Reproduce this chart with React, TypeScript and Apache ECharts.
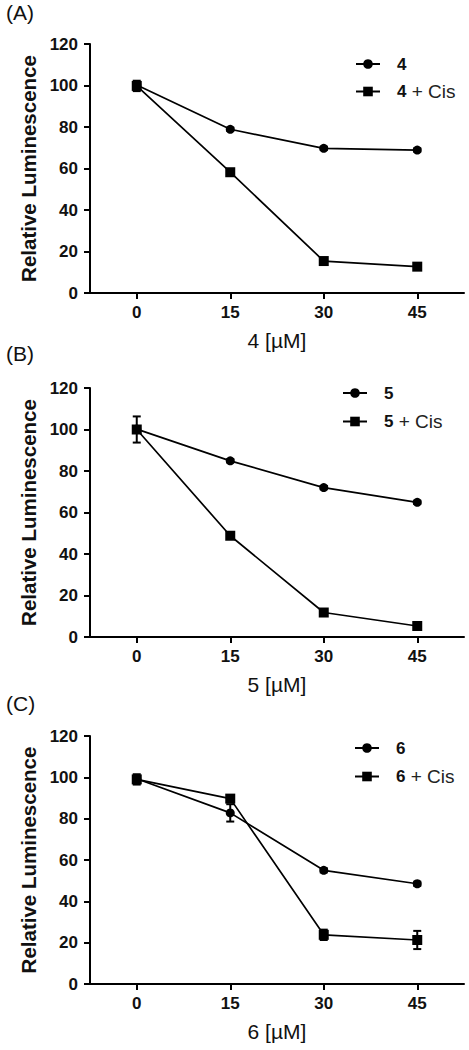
import React, { useEffect, useRef } from "react";
import * as echarts from "echarts";

const X_VALUES = [0, 15, 30, 45];
const Y_TICKS = [0, 20, 40, 60, 80, 100, 120];

const A_NAMES = ["4", "4 + Cis"];
const A_MAIN = [100.2, 78.9, 69.7, 68.9];
const A_MAIN_ERR = [1, 0.8, 0.8, 0.8];
const A_CIS = [99.8, 58.2, 15.4, 12.7];
const A_CIS_ERR = [2.5, 1, 1, 1];

const B_NAMES = ["5", "5 + Cis"];
const B_MAIN = [100.2, 84.9, 72.0, 64.9];
const B_MAIN_ERR = [1, 0.8, 0.8, 0.8];
const B_CIS = [100.0, 48.8, 11.8, 5.3];
const B_CIS_ERR = [6.3, 1.5, 1, 1];

const C_NAMES = ["6", "6 + Cis"];
const C_MAIN = [99.3, 82.8, 55.0, 48.5];
const C_MAIN_ERR = [1, 4.2, 1, 1];
const C_CIS = [99.0, 89.7, 23.8, 21.3];
const C_CIS_ERR = [2.5, 1.5, 2.5, 4.4];

const X_TITLES = ["4 [µM]", "5 [µM]", "6 [µM]"];
const Y_TITLE = "Relative Luminescence";
const PANEL_LABELS = ["(A)", "(B)", "(C)"];

const FONT = "'Liberation Sans', Arial, sans-serif";

export default function App() {
  const ref = useRef<HTMLDivElement>(null);

  useEffect(() => {
    if (!ref.current) return;
    const chart = echarts.init(ref.current, null, { renderer: "svg" });

    const panels = [
      { names: A_NAMES, main: A_MAIN, mainErr: A_MAIN_ERR, cis: A_CIS, cisErr: A_CIS_ERR },
      { names: B_NAMES, main: B_MAIN, mainErr: B_MAIN_ERR, cis: B_CIS, cisErr: B_CIS_ERR },
      { names: C_NAMES, main: C_MAIN, mainErr: C_MAIN_ERR, cis: C_CIS, cisErr: C_CIS_ERR },
    ];

    const grids = [
      { left: 90, top: 44, width: 374, height: 249 },
      { left: 90, top: 388, width: 374, height: 249 },
      { left: 90, top: 736, width: 374, height: 248 },
    ];

    const legendPos = [
      { left: 350, top: 50, itemGap: 9 },
      { left: 337, top: 379, itemGap: 10 },
      { left: 349, top: 734, itemGap: 10 },
    ];

    const labelY = [12.5, 353.3, 703.5];

    const xAxis = grids.map((_, i) => ({
      type: "value",
      gridIndex: i,
      min: -7.5,
      max: 52.5,
      axisLine: { show: true, onZero: false, lineStyle: { color: "#000", width: 2 } },
      axisTick: {
        show: true,
        length: 6,
        customValues: X_VALUES,
        lineStyle: { color: "#000", width: 2 },
      },
      axisLabel: {
        customValues: X_VALUES,
        fontSize: 17,
        fontWeight: "bold",
        color: "#111",
        fontFamily: FONT,
        margin: 11,
      },
      splitLine: { show: false },
      name: X_TITLES[i],
      nameLocation: "middle",
      nameGap: 37,
      nameTextStyle: { fontSize: 21, color: "#111", fontFamily: FONT },
    }));

    const yAxis = grids.map((_, i) => ({
      type: "value",
      gridIndex: i,
      min: Y_TICKS[0],
      max: Y_TICKS[Y_TICKS.length - 1],
      interval: 20,
      axisLine: { show: true, onZero: false, lineStyle: { color: "#000", width: 2 } },
      axisTick: { show: true, length: 6, lineStyle: { color: "#000", width: 2 } },
      axisLabel: {
        fontSize: 17,
        fontWeight: "bold",
        color: "#111",
        fontFamily: FONT,
        margin: 12,
      },
      splitLine: { show: false },
      name: Y_TITLE,
      nameLocation: "middle",
      nameGap: 46,
      nameTextStyle: { fontSize: 20.5, fontWeight: "bold", color: "#111", fontFamily: FONT },
    }));

    const errRender = (params: any, api: any) => {
      const x = api.value(0);
      const lo = api.coord([x, api.value(1)]);
      const hi = api.coord([x, api.value(2)]);
      const cap = 4;
      const style = { stroke: "#000", lineWidth: 2 };
      return {
        type: "group",
        children: [
          { type: "line", shape: { x1: lo[0], y1: lo[1], x2: hi[0], y2: hi[1] }, style },
          { type: "line", shape: { x1: lo[0] - cap, y1: lo[1], x2: lo[0] + cap, y2: lo[1] }, style },
          { type: "line", shape: { x1: hi[0] - cap, y1: hi[1], x2: hi[0] + cap, y2: hi[1] }, style },
        ],
      };
    };

    const series: any[] = [];
    panels.forEach((p, i) => {
      const mk = (vals: number[], errs: number[]) =>
        X_VALUES.map((x, k) => [x, vals[k] - errs[k], vals[k] + errs[k]]);
      series.push({
        type: "custom",
        name: "err-main-" + i,
        xAxisIndex: i,
        yAxisIndex: i,
        renderItem: errRender,
        encode: { x: 0, y: [1, 2] },
        data: mk(p.main, p.mainErr),
        z: 1,
      });
      series.push({
        type: "custom",
        name: "err-cis-" + i,
        xAxisIndex: i,
        yAxisIndex: i,
        renderItem: errRender,
        encode: { x: 0, y: [1, 2] },
        data: mk(p.cis, p.cisErr),
        z: 1,
      });
      series.push({
        type: "line",
        name: p.names[0],
        xAxisIndex: i,
        yAxisIndex: i,
        data: X_VALUES.map((x, k) => [x, p.main[k]]),
        symbol: "circle",
        symbolSize: 9,
        lineStyle: { color: "#000", width: 1.7 },
        itemStyle: { color: "#000" },
        z: 3,
      });
      series.push({
        type: "line",
        name: p.names[1],
        xAxisIndex: i,
        yAxisIndex: i,
        data: X_VALUES.map((x, k) => [x, p.cis[k]]),
        symbol: "rect",
        symbolSize: 10,
        lineStyle: { color: "#000", width: 1.7 },
        itemStyle: { color: "#000" },
        z: 3,
      });
    });

    const legend = panels.map((p, i) => ({
      data: p.names,
      orient: "vertical",
      left: legendPos[i].left,
      top: legendPos[i].top,
      itemGap: legendPos[i].itemGap,
      itemWidth: 24,
      itemHeight: 12,
      selectedMode: false,
      formatter: (name: string) => {
        const parts = name.split(" + ");
        return parts.length > 1 ? `{b|${parts[0]}}{r| + ${parts[1]}}` : `{b|${name}}`;
      },
      textStyle: {
        lineHeight: 18,
        rich: {
          b: {
            fontSize: 17,
            fontWeight: "bold",
            color: "#111",
            fontFamily: FONT,
            lineHeight: 18,
            padding: [0, 0, 0, 12],
          },
          r: {
            fontSize: 19,
            fontWeight: "normal",
            color: "#222",
            fontFamily: FONT,
            lineHeight: 18,
          },
        },
      },
    }));

    const graphic = PANEL_LABELS.map((t, i) => ({
      type: "text",
      x: 6,
      y: labelY[i],
      style: {
        text: t,
        font: `21px ${FONT}`,
        fill: "#111",
        verticalAlign: "middle",
      },
    }));

    chart.setOption({
      animation: false,
      backgroundColor: "#fff",
      grid: grids,
      xAxis,
      yAxis,
      legend,
      series,
      graphic,
    });

    return () => chart.dispose();
  }, []);

  return (
    <div
      ref={ref}
      style={{ position: "absolute", left: 0, top: 0, width: 469, height: 1050 }}
    />
  );
}
